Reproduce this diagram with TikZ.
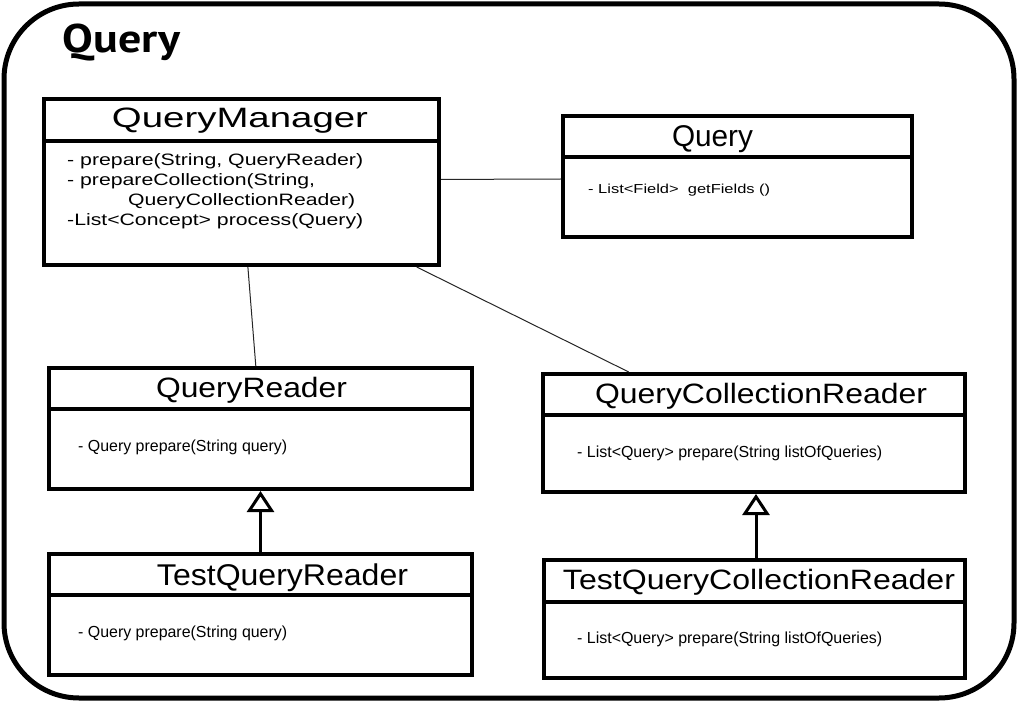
\documentclass[tikz,border=0pt]{standalone}
\usepackage{fontspec}
\setmainfont{Liberation Sans}
\newfontfamily\titlefont{PT Sans}
\usetikzlibrary{arrows.meta,calc}
\newcommand{\fw}[3]{\resizebox{#1pt}{\height}{\fontsize{#2}{#2}\selectfont #3}}
\tikzset{
  classbox/.style={draw=black, line width=4pt, fill=white, inner sep=0pt},
  divider/.style={line width=4.5pt},
  assoc/.style={line width=1pt, draw=black!85},
  inherit/.style={line width=3pt, -{Triangle[open,length=21pt,width=27pt,line width=3pt]}},
  txt/.style={inner sep=0pt, anchor=base west},
  ttl/.style={inner sep=0pt, anchor=base},
}
\begin{document}
\begin{tikzpicture}[x=1pt,y=-1pt]
\useasboundingbox (0,0) rectangle (1018,711);
% frame
\draw[line width=5pt, rounded corners=75pt] (4,4) rectangle (1014,698);
\node[ttl] (title) at (121.5,53) {\resizebox{117pt}{\height}{\fontsize{40}{40}\titlefont\bfseries Query}};

% boxes
\node[classbox, minimum width=395pt, minimum height=166pt] (qm) at (241.5,182) {};
\node[classbox, minimum width=349pt, minimum height=121pt] (q) at (737.5,176.5) {};
\node[classbox, minimum width=423pt, minimum height=121pt] (qr) at (260.5,428.5) {};
\node[classbox, minimum width=423pt, minimum height=121pt] (tqr) at (260.5,614.5) {};
\node[classbox, minimum width=422pt, minimum height=118pt] (qcr) at (754,433) {};
\node[classbox, minimum width=421pt, minimum height=118pt] (tqcr) at (754.5,619) {};

% dividers
\draw[divider] ($(qm.north west)+(0,44)$) -- ($(qm.north east)+(0,44)$);
\draw[divider] ($(q.north west)+(0,43)$) -- ($(q.north east)+(0,43)$);
\draw[divider] ($(qr.north west)+(0,43)$) -- ($(qr.north east)+(0,43)$);
\draw[divider] ($(tqr.north west)+(0,43)$) -- ($(tqr.north east)+(0,43)$);
\draw[divider] ($(qcr.north west)+(0,43)$) -- ($(qcr.north east)+(0,43)$);
\draw[divider] ($(tqcr.north west)+(0,44)$) -- ($(tqcr.north east)+(0,44)$);

% titles
\node[ttl] (qmt) at (240,128) {\fw{256}{28}{QueryManager}};
\node[ttl] (qt) at (712.5,147) {\fw{81}{30}{Query}};
\node[ttl] (qrt) at (251.5,398) {\fw{191}{28}{QueryReader}};
\node[ttl] (tqrt) at (282.5,585) {\fw{251}{30}{TestQueryReader}};
\node[ttl] (qcrt) at (761,403) {\fw{332}{28}{QueryCollectionReader}};
\node[ttl] (tqcrt) at (759,589) {\fw{392}{28}{TestQueryCollectionReader}};

% members
\node[txt] (qm1) at (67,166) {\fw{296}{16.5}{- prepare(String, QueryReader)}};
\node[txt] (qm2) at (67,186) {\fw{248}{16.5}{- prepareCollection(String,}};
\node[txt] (qm3) at (128,206) {\fw{227}{16.5}{QueryCollectionReader)}};
\node[txt] (qm4) at (67,226) {\fw{296}{16.5}{-List<Concept> process(Query)}};
\node[txt] (q1) at (588,194) {\fw{182}{13}{- List<Field>\ \ getFields ()}};
\node[txt] (qr1) at (78,451) {\fw{209}{16}{- Query prepare(String query)}};
\node[txt] (tqr1) at (78,637) {\fw{209}{16}{- Query prepare(String query)}};
\node[txt] (qcr1) at (577,457) {\fw{305}{16}{- List<Query> prepare(String listOfQueries)}};
\node[txt] (tqcr1) at (577,643) {\fw{305}{16}{- List<Query> prepare(String listOfQueries)}};

% associations
\draw[assoc] ($(qm.north east)!0.485!(qm.south east)$) -- ($(q.north west)!0.52!(q.south west)$);
\draw[assoc] ($(qm.south west)!0.516!(qm.south east)$) -- ($(qr.north west)!0.489!(qr.north east)$);
\draw[assoc] ($(qm.south west)!0.939!(qm.south east)$) -- ($(qcr.north west)!0.206!(qcr.north east)$);

% inheritance
\draw[inherit] (tqr.north) -- (qr.south);
\draw[inherit] ($(tqcr.north)+(1.5,0)$) -- ($(qcr.south)+(2,0)$);
\end{tikzpicture}
\end{document}
